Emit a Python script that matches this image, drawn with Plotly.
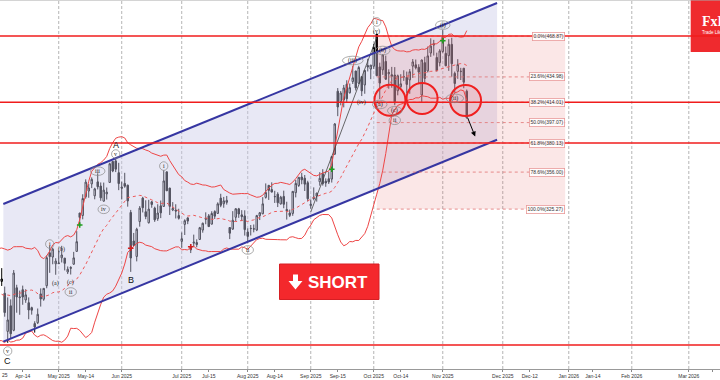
import pandas as pd
import plotly.graph_objects as go

# ---------------- data (daily OHLC, Mar 3 2025 - Nov 13 2025) ----------------
holidays = ["2025-04-18", "2025-05-26", "2025-06-19", "2025-07-04", "2025-09-01",
            "2025-12-25", "2026-01-01", "2026-02-16"]

opens = [
    300.3, 270.9, 272.9, 272.1, 259.3, 252.5, 225.3, 247.2, 248.1, 247.3, 245.1, 228.2, 231.6, 233.3, 234.9, 258.1, 283.6, 282.7, 272.5, 275.6, 249.3,
    263.8, 254.6, 265.3, 255.4, 223.8, 245.0, 224.7, 260.0, 251.8, 258.4, 249.9, 247.6, 243.5, 230.3, 231.0, 254.9, 250.5, 261.7, 289.0, 285.5, 279.9,
    280.0, 284.9, 284.6, 273.1, 276.9, 279.6, 290.2, 322.0, 320.0, 335.5, 340.3, 346.2, 336.3, 347.9, 344.4, 331.9, 337.9, 347.4, 364.8, 365.3, 355.5,
    343.5, 346.6, 345.1, 322.5, 298.8, 286.0, 314.9, 334.4, 323.1, 314.0, 331.3, 326.1, 317.3, 328.0, 327.5, 356.2, 342.7, 324.6, 324.5, 319.9,
    298.5, 312.6, 318.0, 291.4, 297.0, 297.5, 300.1, 307.9, 317.7, 319.7, 312.8, 323.2, 321.7, 334.4, 329.7, 330.9, 310.0, 308.7, 318.5, 325.5, 320.5, 319.6,
    306.2, 309.1, 309.0, 307.9, 319.8, 321.4, 335.0, 345.0, 341.5, 335.8, 337.7, 329.6, 335.8, 325.0, 322.1, 321.7, 338.9, 344.9, 351.9, 350.9, 347.2,
    328.2, 335.2, 336.1, 348.0, 354.6, 348.4, 350.5, 350.2, 370.9, 423.1, 414.5, 415.8, 428.9, 421.8, 431.1, 439.9, 429.8, 435.2, 428.3, 444.4, 441.5,
    443.8, 470.5, 443.3, 440.8, 447.8, 437.6, 436.8, 436.5, 423.5, 426.8, 434.9, 434.7, 432.5, 443.9, 445.0, 443.0, 420.0, 446.8, 440.0, 454.8, 462.5, 451.1, 446.8,
    456.0, 454.5, 452.6, 462.0, 437.9, 439.6, 439.4, 442.2, 423.1,
]
highs = [
    303.9, 284.4, 279.5, 272.7, 266.3, 253.4, 237.1, 251.8, 248.3, 251.6, 245.4, 230.1, 242.1, 238.0, 249.5, 278.6, 288.2, 284.9, 291.9, 276.1, 260.6,
    277.4, 285.0, 276.3, 261.0, 252.0, 250.4, 274.7, 262.5, 257.7, 261.8, 258.8, 252.0, 244.3, 232.2, 242.8, 259.5, 259.6, 286.9, 294.9, 293.3, 284.5,
    290.9, 294.8, 284.8, 277.7, 277.9, 289.8, 307.0, 322.2, 337.6, 350.0, 346.1, 351.6, 343.0, 355.0, 347.4, 347.3, 343.2, 363.8, 365.0, 367.7, 363.7,
    348.0, 355.4, 345.6, 324.6, 305.5, 309.8, 327.8, 335.5, 332.6, 333.0, 332.1, 327.3, 329.3, 332.4, 357.5, 356.3, 343.0, 331.1, 329.3, 325.6,
    305.9, 316.8, 318.5, 296.2, 304.1, 300.2, 310.5, 314.1, 322.6, 321.2, 323.5, 324.3, 330.9, 338.0, 335.4, 336.2, 310.2, 323.6, 326.0, 326.3, 324.4, 324.3,
    309.3, 312.1, 312.5, 320.5, 322.9, 335.2, 346.6, 345.3, 347.5, 340.5, 339.3, 336.3, 340.6, 331.4, 324.9, 340.3, 349.5, 351.9, 355.4, 353.6, 348.8,
    333.3, 343.3, 338.9, 355.9, 358.4, 350.8, 356.3, 369.0, 396.7, 425.7, 423.3, 428.3, 432.2, 429.5, 444.0, 440.0, 444.2, 435.4, 440.5, 450.0, 445.0,
    462.3, 470.8, 446.8, 453.6, 452.7, 441.3, 443.3, 443.1, 436.9, 437.2, 440.5, 439.4, 441.5, 449.8, 449.4, 445.5, 449.4, 451.7, 460.2, 467.0, 465.7, 455.1, 458.0,
    474.1, 460.2, 466.3, 467.5, 439.4, 449.7, 442.5, 442.3, 424.5,
]
lows = [
    277.3, 261.8, 267.7, 261.2, 250.7, 220.0, 217.0, 241.1, 232.6, 240.7, 232.8, 222.3, 228.0, 230.1, 234.6, 256.3, 271.3, 266.5, 271.8, 260.6, 243.4,
    259.3, 251.3, 261.5, 236.0, 214.3, 217.8, 223.9, 239.3, 237.6, 245.9, 247.5, 233.9, 237.7, 222.8, 229.9, 244.4, 249.2, 259.6, 272.4, 279.5, 270.8,
    279.8, 281.0, 274.4, 271.4, 271.0, 279.0, 290.0, 311.5, 316.8, 334.0, 334.7, 342.7, 333.4, 341.6, 332.2, 331.4, 333.2, 347.3, 355.9, 356.0, 341.0,
    333.3, 343.0, 327.3, 273.2, 295.0, 281.9, 310.7, 322.5, 316.9, 313.3, 326.4, 314.7, 315.5, 317.8, 327.4, 340.4, 320.4, 323.6, 317.5, 316.6,
    293.2, 303.8, 312.8, 288.8, 294.4, 293.6, 300.0, 305.7, 312.7, 310.5, 312.6, 317.1, 321.4, 326.9, 326.4, 329.0, 300.4, 308.0, 315.3, 318.0, 315.3, 303.3,
    297.8, 303.4, 306.0, 307.0, 316.2, 321.0, 334.0, 332.9, 339.7, 330.4, 327.0, 329.0, 326.0, 316.6, 318.7, 319.7, 335.0, 343.7, 345.9, 340.3, 331.7,
    325.6, 332.6, 331.5, 344.7, 344.8, 343.8, 346.1, 347.3, 370.2, 402.4, 411.4, 409.7, 414.2, 421.2, 429.1, 423.7, 429.0, 419.1, 421.0, 439.5, 433.1,
    441.6, 435.6, 416.6, 436.7, 432.5, 425.2, 426.0, 411.5, 419.7, 425.9, 431.7, 421.3, 421.0, 434.2, 441.2, 429.0, 413.9, 430.2, 438.7, 451.6, 452.7, 439.6, 443.7,
    455.0, 443.8, 440.0, 435.1, 421.9, 433.4, 432.4, 425.6, 400.5,
]
closes = [
    284.65, 272.04, 279.10, 263.45, 262.67, 222.15, 230.58, 248.09, 240.68, 249.98, 238.01, 225.31, 235.86, 236.26, 248.71, 278.39, 288.14, 272.06, 273.13, 263.55, 259.16,
    268.46, 282.76, 267.28, 239.43, 233.29, 221.86, 272.20, 252.40, 252.31, 252.35, 254.11, 241.55, 241.37, 227.50, 237.97, 250.74, 259.51, 284.95, 285.88, 292.03, 282.16,
    280.52, 287.21, 280.26, 275.35, 276.22, 284.82, 298.26, 318.38, 334.07, 347.68, 342.82, 349.98, 342.09, 343.82, 334.62, 341.04, 339.34, 362.89, 356.90, 358.43, 346.46,
    342.69, 344.27, 332.05, 284.70, 295.14, 308.58, 326.09, 326.43, 319.11, 325.31, 329.13, 316.35, 322.05, 322.16, 348.68, 340.47, 327.55, 325.78, 323.63, 317.66,
    300.71, 315.65, 315.35, 293.94, 297.81, 295.88, 309.87, 313.51, 316.90, 310.78, 321.67, 319.41, 329.65, 328.49, 332.11, 332.56, 305.30, 316.06, 325.59, 321.20, 319.04, 308.27,
    302.63, 309.26, 308.72, 319.91, 322.27, 329.65, 339.03, 340.84, 339.38, 335.58, 330.56, 335.16, 329.31, 323.90, 320.11, 340.01, 346.60, 351.67, 349.60, 345.98, 333.87,
    329.36, 334.09, 338.53, 350.84, 346.40, 346.97, 347.79, 368.81, 395.94, 410.04, 421.62, 425.86, 416.85, 426.07, 434.21, 425.85, 442.79, 423.39, 440.40, 443.21, 444.72,
    459.46, 436.00, 429.83, 453.25, 433.09, 438.69, 435.54, 413.49, 435.90, 429.24, 435.15, 428.75, 439.31, 447.43, 442.60, 438.97, 448.98, 433.72, 452.42, 460.55, 461.51, 440.10, 456.56,
    468.37, 444.26, 462.07, 445.91, 429.52, 445.23, 439.62, 430.60, 401.00,
]

trade_days = [d.strftime("%Y-%m-%d") for d in pd.bdate_range("2025-03-03", "2025-11-13")
              if d.strftime("%Y-%m-%d") not in holidays]
assert len(trade_days) == len(closes) == len(opens) == len(highs) == len(lows)

# Fibonacci retracement
fib_high = 468.87
fib_low = 325.27
fib_ratios = [0.0, 0.236, 0.382, 0.5, 0.618, 0.786, 1.0]
fib_start = "2025-10-02"
fib_end = "2025-12-30 19:00"

# horizontal key levels
key_levels = [468.87, 414.01, 380.12, 212.5]

# rising channel
channel_x = ["2025-04-03 12:46", "2025-11-27 02:24"]
channel_upper = [329.5, 496.3]
channel_lower = [215.3, 382.8]

# wave connector line
wave_line_x = ["2025-09-02", "2025-10-02"]
wave_line_y = [322.9, 467.8]

# trade signal marks
buy_dates = ["2025-05-12", "2025-09-11", "2025-11-03"]
buy_prices = [312.1, 358.3, 465.0]
sell_dates = ["2025-06-05", "2025-07-07"]
sell_prices = [292.8, 294.1]

# highlighted zones (circles)
circle_dates = ["2025-10-08 09:36", "2025-10-23 02:24", "2025-11-12 14:24"]
circle_prices = [415.6, 417.1, 415.4]

# Elliott wave labels: text, date, price, circled
wave_labels = [
    ("v", "2025-04-07", 207.5, True),
    ("i", "2025-04-28", 296.3, True),
    ("(b)", "2025-05-02", 291.6, False),
    ("(a)", "2025-04-30", 263.9, False),
    ("(c)", "2025-05-07", 264.2, False),
    ("ii", "2025-05-07", 256.5, True),
    ("iii", "2025-05-20", 356.8, True),
    ("iv", "2025-05-22", 325.1, True),
    ("v", "2025-05-29", 371.0, True),
    ("i", "2025-06-23", 361.0, True),
    ("ii", "2025-08-01", 291.4, True),
    ("(iii)", "2025-09-22", 448.6, True),
    ("(iv)", "2025-09-25", 413.9, False),
    ("(v)", "2025-10-02", 472.8, False),
    ("i", "2025-10-02", 480.6, True),
    ("(a)", "2025-10-03", 412.1, True),
    ("(b)", "2025-10-06", 456.9, True),
    ("(c)", "2025-10-10", 406.9, True),
    ("ii", "2025-10-10", 399.0, True),
    ("(i)", "2025-11-03", 478.0, True),
    ("(ii)", "2025-11-07", 417.2, True),
]
big_labels = [("A", "2025-05-29", 378.8), ("B", "2025-06-05", 266.4), ("C", "2025-04-07", 199.3)]

tick_dates = ["2025-04-14", "2025-05-01", "2025-05-14", "2025-06-02", "2025-07-01", "2025-07-15",
              "2025-08-01", "2025-08-14", "2025-09-02", "2025-09-15", "2025-10-01", "2025-10-14",
              "2025-11-03", "2025-12-01", "2025-12-12", "2026-01-02", "2026-01-14", "2026-02-02",
              "2026-03-02", "2026-03-12"]
tick_text = ["Apr-14", "May 2025", "May-14", "Jun 2025", "Jul 2025", "Jul-15", "Aug 2025", "Aug-14",
             "Sep 2025", "Sep-15", "Oct 2025", "Oct-14", "Nov 2025", "Dec 2025", "Dec-12", "Jan 2026",
             "Jan-14", "Feb 2026", "Mar 2026", "Mar-12"]
grid_dates = ["2025-05-01", "2025-06-02", "2025-07-01", "2025-08-01", "2025-09-02", "2025-10-01",
              "2025-11-03", "2025-12-01", "2026-01-02", "2026-02-02", "2026-03-02"]

# ---------------- indicators ----------------
cs = pd.Series(closes)
bb_mid = cs.rolling(20).mean()
bb_sd = cs.rolling(20).std(ddof=0)
bb_up = bb_mid + 2 * bb_sd
bb_lo = bb_mid - 2 * bb_sd

W, PH = 720, 369


def pp(x, y):
    return x / W, 1 - y / PH


fig = go.Figure()

# channel fill
fig.add_trace(go.Scatter(
    x=[channel_x[0], channel_x[1], channel_x[1], channel_x[0], channel_x[0]],
    y=[channel_upper[0], channel_upper[1], channel_lower[1], channel_lower[0], channel_upper[0]],
    fill="toself", fillcolor="rgba(200,200,232,0.42)", line=dict(width=0), mode="lines",
    hoverinfo="skip"))
# fib zone fill
fig.add_trace(go.Scatter(
    x=[fib_start, fib_end, fib_end, fib_start, fib_start],
    y=[fib_low, fib_low, fib_high, fib_high, fib_low],
    fill="toself", fillcolor="rgba(222,70,70,0.13)", line=dict(width=0), mode="lines",
    hoverinfo="skip"))

# Bollinger bands
fig.add_trace(go.Scatter(x=trade_days, y=bb_up, mode="lines", line=dict(color="rgb(238,70,70)", width=1)))
fig.add_trace(go.Scatter(x=trade_days, y=bb_lo, mode="lines", line=dict(color="rgb(238,70,70)", width=1)))
fig.add_trace(go.Scatter(x=trade_days, y=bb_mid, mode="lines", line=dict(color="rgb(238,90,90)", width=1, dash="dot")))

# wave line
fig.add_trace(go.Scatter(x=wave_line_x, y=wave_line_y, mode="lines", line=dict(color="#444", width=0.8)))

# candles
fig.add_trace(go.Candlestick(
    x=trade_days, open=opens, high=highs, low=lows, close=closes,
    increasing=dict(fillcolor="white", line=dict(color="black", width=1)),
    decreasing=dict(fillcolor="black", line=dict(color="black", width=1)),
    whiskerwidth=0))

# channel lines
for ys in (channel_upper, channel_lower):
    fig.add_trace(go.Scatter(x=channel_x, y=ys, mode="lines", line=dict(color="#3636a2", width=2)))

# signals
fig.add_trace(go.Scatter(x=buy_dates, y=buy_prices, mode="markers",
                         marker=dict(symbol="cross-thin", size=4, line=dict(color="#1f9e1f", width=1.5))))
fig.add_trace(go.Scatter(x=sell_dates, y=sell_prices, mode="markers",
                         marker=dict(symbol="cross-thin", size=4, line=dict(color="#d42020", width=1.5))))

shapes = []
# vertical grid lines
for d in grid_dates:
    shapes.append(dict(type="line", xref="x", yref="paper", x0=d, x1=d, y0=0, y1=1,
                       line=dict(color="#b5b5b5", width=1, dash="3px,2px"), layer="below"))

# logo box
x0, y0 = pp(690.7, 52)
shapes.append(dict(type="rect", xref="paper", yref="paper", x0=x0, x1=1.0, y0=y0, y1=1.0,
                   fillcolor="#ef2a2e", line=dict(width=0)))

# fib dotted levels
fib_levels = [fib_high - r * (fib_high - fib_low) for r in fib_ratios]
for lv in fib_levels:
    shapes.append(dict(type="line", xref="x", yref="y", x0=fib_start, x1=fib_end, y0=lv, y1=lv,
                       line=dict(color="#e27272", width=0.8, dash="dot")))

# key horizontal levels
for lv in key_levels:
    shapes.append(dict(type="line", xref="paper", yref="y", x0=0, x1=1, y0=lv, y1=lv,
                       line=dict(color="#f01c1c", width=1.6)))

# zone circles
for d, p in zip(circle_dates, circle_prices):
    shapes.append(dict(type="circle", xref="x", yref="y", xsizemode="pixel", ysizemode="pixel",
                       xanchor=d, yanchor=p, x0=-15.5, x1=15.5, y0=-15.5, y1=15.5,
                       line=dict(color="#f02020", width=2), fillcolor="rgba(255,60,60,0.10)"))

# wave label ellipses
for txt, d, p, circ in wave_labels:
    if circ:
        hw = 2.6 + 1.55 * len(txt)
        shapes.append(dict(type="circle", xref="x", yref="y", xsizemode="pixel", ysizemode="pixel",
                           xanchor=d, yanchor=p, x0=-hw, x1=hw, y0=-4.3, y1=4.3,
                           line=dict(color="#888", width=0.7)))

# SHORT button
bx0, by0 = pp(279.5, 299.5)
bx1, by1 = pp(379, 264)
shapes.append(dict(type="rect", xref="paper", yref="paper", x0=bx0, x1=bx1, y0=by0, y1=by1,
                   fillcolor="#f4282c", line=dict(color="#d61f24", width=1)))
arrow_pts = [(293, 274.5), (298, 274.5), (298, 281), (302.5, 281), (295.5, 289.5), (288.5, 281), (293, 281)]
path = "M " + " L ".join("{:.5f},{:.5f}".format(*pp(x, y)) for x, y in arrow_pts) + " Z"
shapes.append(dict(type="path", xref="paper", yref="paper", path=path, fillcolor="white",
                   line=dict(width=0)))

# top border
shapes.append(dict(type="line", xref="paper", yref="paper", x0=0, x1=1, y0=1, y1=1,
                   line=dict(color="#aaa", width=1)))

annotations = []
for lv, r in zip(fib_levels, fib_ratios):
    annotations.append(dict(x=fib_end, y=lv, xref="x", yref="y", xanchor="right", yanchor="middle",
                            text="{:.1f}%({:.2f})".format(r * 100, lv), showarrow=False,
                            font=dict(size=5, color="#333", family="Liberation Sans"),
                            bgcolor="rgba(255,255,255,0.85)", bordercolor="#e99a9a", borderwidth=0.8,
                            borderpad=0.6))
for txt, d, p, circ in wave_labels:
    annotations.append(dict(x=d, y=p, xref="x", yref="y", text=txt, showarrow=False,
                            font=dict(size=6, color="#222", family="Liberation Serif")))
for txt, d, p in big_labels:
    annotations.append(dict(x=d, y=p, xref="x", yref="y", text=txt, showarrow=False,
                            font=dict(size=9, color="#111", family="Liberation Sans")))

# projection arrow
annotations.append(dict(x="2025-11-17 19:12", y=385.5, xref="x", yref="y", ax=-8, ay=-20,
                        text="", showarrow=True, arrowhead=2, arrowsize=1, arrowwidth=1,
                        arrowcolor="black"))

# SHORT text
sx, sy = pp(338, 282)
annotations.append(dict(x=sx, y=sy, xref="paper", yref="paper", text="<b>SHORT</b>", showarrow=False,
                        xanchor="center", yanchor="middle",
                        font=dict(size=17, color="white", family="Liberation Sans")))

# logo text (cut by the right edge, as in the original)
lx, ly = pp(699.5, 21.5)
annotations.append(dict(x=lx, y=ly, xref="paper", yref="paper", text="<b>FxPro</b>", showarrow=False,
                        xanchor="left", yanchor="middle",
                        font=dict(size=14, color="white", family="Liberation Serif")))
lx2, ly2 = pp(699.5, 32)
annotations.append(dict(x=lx2, y=ly2, xref="paper", yref="paper", text="Trade Like a Pro", showarrow=False,
                        xanchor="left", yanchor="middle",
                        font=dict(size=4.5, color="white", family="Liberation Sans")))

# cut-off first tick label
annotations.append(dict(x=0, y=-0.0165, xref="paper", yref="paper", text="25", showarrow=False,
                        xanchor="left", yanchor="middle",
                        font=dict(size=5, color="#333", family="Liberation Sans")))

fig.update_layout(
    width=720, height=380,
    margin=dict(l=0, r=0, t=0, b=11),
    paper_bgcolor="white", plot_bgcolor="white",
    showlegend=False,
    shapes=shapes, annotations=annotations,
    xaxis=dict(
        type="date",
        range=["2025-04-02 10:19", "2026-03-16 09:36"],
        rangebreaks=[dict(bounds=["sat", "mon"]), dict(values=holidays)],
        tickvals=tick_dates, ticktext=tick_text,
        tickfont=dict(size=5, color="#333", family="Liberation Sans"),
        ticks="outside", ticklen=2, tickcolor="#888",
        showgrid=False, zeroline=False,
        showline=True, linecolor="#999", linewidth=1,
        rangeslider=dict(visible=False),
    ),
    yaxis=dict(range=[192.6, 498.8], visible=False, showgrid=False, zeroline=False),
)

fig.write_html("out.html")
